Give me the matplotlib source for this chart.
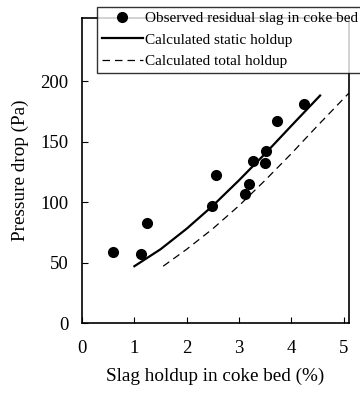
import matplotlib
matplotlib.use("Agg")
import matplotlib.pyplot as plt

plt.rcParams['font.family'] = ['Liberation Serif', 'DejaVu Serif']

# Observed residual slag in coke bed
obs_x = [0.60, 1.12, 1.25, 2.49, 2.56, 3.12, 3.20, 3.27, 3.49, 3.52, 3.73, 4.24]
obs_y = [59, 57, 83, 97, 122, 107, 115, 134, 132, 142, 167, 181]

# Calculated static holdup
static_x = [1.00, 1.50, 2.00, 2.50, 3.00, 3.50, 4.00, 4.55]
static_y = [47, 61, 78, 97, 118, 140, 163, 188]

# Calculated total holdup
total_x = [1.55, 2.00, 2.50, 3.00, 3.50, 4.00, 4.50, 5.10]
total_y = [47, 61, 78, 97, 118, 140, 163, 190]

x_ticks = [0, 1, 2, 3, 4, 5]
y_ticks = [0, 50, 100, 150, 200]

fig = plt.figure(figsize=(3.6, 3.94), dpi=100)
ax = fig.add_axes([0.228, 0.180, 0.741, 0.774])

ax.plot(obs_x, obs_y, 'o', color='black', ms=7, label='Observed residual slag in coke bed')
ax.plot(static_x, static_y, '-', color='black', lw=1.6, label='Calculated static holdup')
ax.plot(total_x, total_y, '--', color='black', lw=0.9, dashes=(6, 4), label='Calculated total holdup')

ax.set_xlim(0, 5.1)
ax.set_ylim(0, 252)
ax.set_xticks(x_ticks)
ax.set_yticks(y_ticks)
ax.tick_params(direction='in', length=4, labelsize=13.5)
ax.tick_params(axis='x', pad=12)
ax.tick_params(axis='y', pad=10)
for s in ax.spines.values():
    s.set_linewidth(1.2)

ax.set_xlabel('Slag holdup in coke bed (%)', fontsize=13.8, labelpad=8)
ax.set_ylabel('Pressure drop (Pa)', fontsize=13.8, labelpad=8)

leg = fig.legend(loc='upper left', bbox_to_anchor=(97/360, 1 - 7/394),
                 fontsize=11, frameon=True, fancybox=False, edgecolor='black',
                 handlelength=2.7, handletextpad=0.15, borderpad=0.3,
                 labelspacing=0.5, borderaxespad=0)
leg.get_frame().set_linewidth(1.0)

fig.savefig('out.png', dpi=100)
